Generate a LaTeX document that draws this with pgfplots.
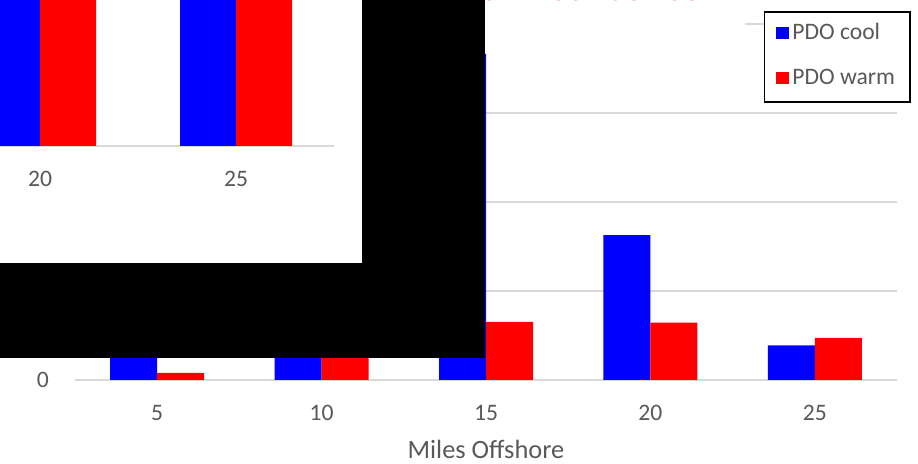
\documentclass[border=0pt]{standalone}
\usepackage{pgfplots}
\usepackage{pgfplotstable}
\pgfplotsset{compat=1.18}
\usepackage{fontspec}
\setmainfont{Carlito}
\definecolor{txtgray}{HTML}{595959}
\definecolor{gridgray}{HTML}{D9D9D9}
\definecolor{pblue}{HTML}{0000FF}
\definecolor{pred}{HTML}{FF0000}
\newcommand{\ticksize}{\fontsize{23.6bp}{28bp}\selectfont}
\newcommand{\labsize}{\fontsize{26.4bp}{31bp}\selectfont}
\newcommand{\titlesize}{\fontsize{38bp}{45bp}\selectfont}

\pgfplotstableread{
pos cool warm
0 0.90 0.079
1 1.10 0.55
2 3.663 0.652
3 1.629 0.644
4 0.39 0.472
}\maindata

\pgfplotstableread{
pos cool warm
3 3.0 3.0
4 3.0 3.0
}\insetdata

\pgfplotsset{
  common/.style={
    scale only axis, ybar=0pt,
    axis line style={draw=none}, major tick length=0pt,
    ymin=0, ymajorgrids, grid style={gridgray, line width=1.5bp},
    xticklabel style={font=\ticksize, text=txtgray, inner sep=0pt,
      text height=15bp, text depth=0pt, anchor=north, yshift=-25bp},
  }
}

\begin{document}
\begin{tikzpicture}
\path[use as bounding box] (0,0) rectangle (918bp,464bp);
\clip (0,0) rectangle (918bp,464bp);
\begin{axis}[common,
  at={(75bp,84bp)}, anchor=south west,
  width=822bp, height=356bp,
  xmin=-0.5, xmax=4.5, ymax=4,
  bar width=47bp,
  xtick={0,1,2,3,4}, xticklabels={5,10,15,20,25},
  ytick={0,1,2,3,4}, yticklabels={0,1,2,3,4},
  yticklabel style={font=\ticksize, text=txtgray, inner sep=0pt,
    text height=15bp, text depth=0pt, anchor=east, xshift=-26bp},
  xlabel={Miles Offshore},
  xlabel style={font=\labsize, text=txtgray, at={(axis description cs:0.5,-0.2205)}, anchor=base, inner sep=0pt},
  legend style={at={(1.0168,1.0365)}, anchor=north east, draw=black, line width=1.5bp,
    fill=white, inner xsep=12bp, inner ysep=9bp, row sep=18bp,
    font=\ticksize, text=txtgray,
    nodes={inner sep=3bp, text height=16bp, text depth=5bp}},
  legend cell align=left,
]
\addplot[fill=pblue, draw=none, legend image code/.code={\fill[pblue] (0bp,-5bp) rectangle (13bp,7bp);}] table[x=pos, y=cool] {\maindata};
\addplot[fill=pred, draw=none, legend image code/.code={\fill[pred] (0bp,-5bp) rectangle (13bp,7bp);}] table[x=pos, y=warm] {\maindata};
\legend{PDO cool, PDO warm}
\end{axis}
% title (mostly cut off at the top, as in the reference)
\fill[white] (173bp,437bp) rectangle (745bp,470bp);
\node[anchor=base, text=pred, font=\titlesize, inner sep=0pt] at (462bp,463bp) {Average Larval Fish Abundance};
% overlays
\fill[black] (0,106.3bp) rectangle (485bp,470bp);
\fill[white] (0,200.5bp) rectangle (362bp,470bp);
\begin{axis}[common,
  at={(0bp,318bp)}, anchor=south west,
  width=334bp, height=146bp,
  xmin=2.7959, xmax=4.5, ymax=1,
  bar width=56bp,
  xtick={3,4}, xticklabels={20,25},
  ytick={0}, yticklabels={},
]
\addplot[fill=pblue, draw=none] table[x=pos, y=cool] {\insetdata};
\addplot[fill=pred, draw=none] table[x=pos, y=warm] {\insetdata};
\end{axis}
\end{tikzpicture}
\end{document}
